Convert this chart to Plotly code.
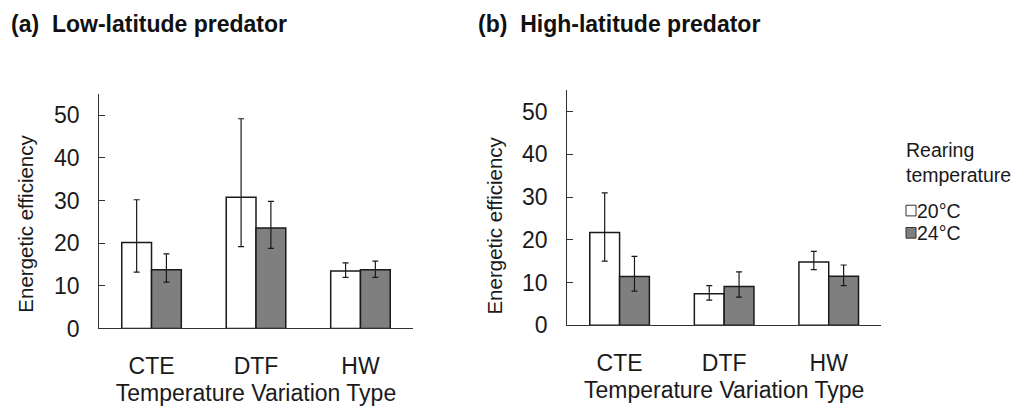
import plotly.graph_objects as go

# Treatment categories and rearing temperatures
categories = ["CTE", "DTF", "HW"]
rearing = ["20°C", "24°C"]

# (a) Low-latitude predator: means and asymmetric error extents
low_20 = [20.2, 30.8, 13.5]
low_20_up = [10.0, 18.4, 1.9]
low_20_down = [7.0, 11.6, 1.5]
low_24 = [13.8, 23.6, 13.8]
low_24_up = [3.7, 6.2, 2.0]
low_24_down = [2.9, 4.8, 1.8]

# (b) High-latitude predator
high_20 = [21.7, 7.4, 14.8]
high_20_up = [9.3, 1.9, 2.5]
high_20_down = [6.7, 1.5, 1.8]
high_24 = [11.4, 9.05, 11.5]
high_24_up = [4.7, 3.45, 2.6]
high_24_down = [3.4, 2.45, 2.2]

fills = ["#ffffff", "#7f7f7f"]
FONT = "Liberation Sans, Arial, sans-serif"
INK = "#1a1a1a"

fig = go.Figure()

panels = [
    ("x", "y", [low_20, low_24], [low_20_up, low_24_up], [low_20_down, low_24_down]),
    ("x2", "y2", [high_20, high_24], [high_20_up, high_24_up], [high_20_down, high_24_down]),
]

for xa, ya, vals, ups, downs in panels:
    for i in range(2):
        fig.add_trace(go.Bar(
            x=categories, y=vals[i],
            xaxis=xa, yaxis=ya,
            name=rearing[i],
            showlegend=False,
            marker=dict(color=fills[i], line=dict(color=INK, width=1.5)),
            error_y=dict(type="data", symmetric=False, array=ups[i], arrayminus=downs[i],
                         color=INK, thickness=1.2, width=3),
        ))

W, H = 1020, 408

def px(x):
    return x / W

def py(y):
    return (H - y) / H

def xdom(a, b):
    return [px(a), px(b)]

def ydom(top, bottom):
    return [py(bottom), py(top)]

yaxis_common = dict(
    range=[0, 55.1], tickvals=[0, 10, 20, 30, 40, 50],
    ticks="inside", ticklen=6, tickcolor="#333333", tickwidth=1,
    showline=True, linecolor="#333333", linewidth=1.2,
    showgrid=False, zeroline=False,
    tickfont=dict(family=FONT, size=23, color=INK),
    ticklabelstandoff=14,
)
xaxis_common = dict(
    showline=True, linecolor="#333333", linewidth=1.2,
    ticks="", showgrid=False,
    tickfont=dict(family=FONT, size=23, color=INK),
    ticklabelstandoff=17,
    title=dict(text="Temperature Variation Type", standoff=6,
               font=dict(family=FONT, size=23, color=INK)),
)

fig.update_layout(
    width=W, height=H,
    margin=dict(l=0, r=0, t=0, b=0),
    paper_bgcolor="white", plot_bgcolor="white",
    barmode="group", bargap=0.43, bargroupgap=0,
    xaxis=dict(domain=xdom(99.3, 412.7), anchor="y", **xaxis_common),
    yaxis=dict(domain=ydom(96.7, 339.3), anchor="x", **yaxis_common),
    xaxis2=dict(domain=xdom(567.3, 881), anchor="y2", **xaxis_common),
    yaxis2=dict(domain=ydom(92.7, 336), anchor="x2", **yaxis_common),
    showlegend=False,
)

annotations = [
    dict(text="<b>(a)  Low-latitude predator</b>", x=px(10), y=py(25),
         xanchor="left", yanchor="middle", font=dict(family=FONT, size=23, color="#111111")),
    dict(text="<b>(b)  High-latitude predator</b>", x=px(477), y=py(25),
         xanchor="left", yanchor="middle", font=dict(family=FONT, size=23, color="#111111")),
    dict(text="Energetic efficiency", x=px(26), y=py(231), textangle=-90,
         xanchor="center", yanchor="middle", font=dict(family=FONT, size=20.5, color=INK)),
    dict(text="Energetic efficiency", x=px(495), y=py(233), textangle=-90,
         xanchor="center", yanchor="middle", font=dict(family=FONT, size=20.5, color=INK)),
    # key for the rearing temperatures
    dict(text="Rearing<br>temperature", x=px(905), y=py(168), xanchor="left", yanchor="middle",
         align="left", font=dict(family=FONT, size=19.5, color=INK)),
]
key_rows = [217.5, 240.5]
shapes = []
for i, name in enumerate(rearing):
    yc = key_rows[i]
    shapes.append(dict(type="rect", xref="paper", yref="paper",
                       x0=px(906), x1=px(916), y0=py(yc + 5.5), y1=py(yc - 5.5),
                       fillcolor=fills[i], line=dict(color="#333333", width=1)))
    annotations.append(dict(text=name, x=px(916), y=py(yc), xanchor="left", yanchor="middle",
                            font=dict(family=FONT, size=19.5, color=INK)))

for a in annotations:
    a.update(xref="paper", yref="paper", showarrow=False, borderpad=0)
fig.update_layout(annotations=annotations, shapes=shapes)

fig.write_html("out.html")
